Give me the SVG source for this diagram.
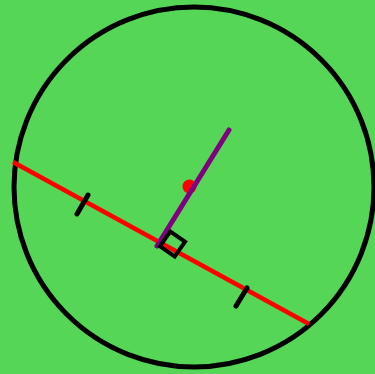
<svg xmlns="http://www.w3.org/2000/svg" width="375" height="374" viewBox="0 0 375 374">
<style>
.k{fill:none;stroke:#000;stroke-width:5;stroke-linecap:round}
</style>
<rect width="375" height="374" fill="#56d656"/>
<g id="circle"><circle cx="194" cy="187" r="180" fill="none" stroke="#000" stroke-width="5"/></g>
<g id="connectors">
<line x1="13" y1="162" x2="309" y2="324" stroke="#ff0000" stroke-width="4.5"/>
<circle cx="189.5" cy="186.5" r="7" fill="#ff0000"/>
<line x1="229" y1="130" x2="157" y2="246" stroke="#800080" stroke-width="5" stroke-linecap="round"/>
</g>
<g id="marks">
<rect x="-9" y="-9" width="18" height="18" transform="translate(172.5,244) rotate(35)" fill="none" stroke="#000" stroke-width="4"/>
<line class="k" x1="88" y1="195" x2="77" y2="214"/>
<line class="k" x1="247" y1="288" x2="236" y2="306"/>
</g>
</svg>
